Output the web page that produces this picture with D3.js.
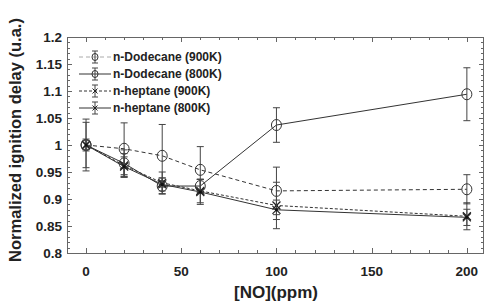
<!DOCTYPE html>
<html>
<head>
<meta charset="utf-8">
<script src="https://cdn.jsdelivr.net/npm/d3@7"></script>
<style>
  body { margin: 0; background: #fff; }
  text { font-family: "Liberation Sans", Arial, sans-serif; font-weight: bold; }
</style>
</head>
<body>
<script>
var noPpm = [0, 20, 40, 60, 100, 200];
var dod900 = [1.0, 0.993, 0.980, 0.954, 0.915, 0.918];
var dod900Err = [0.048, 0.048, 0.058, 0.043, 0.044, 0.027];
var dod800 = [1.0, 0.966, 0.924, 0.924, 1.037, 1.094];
var dod800Err = [0.042, 0.025, 0.015, 0.012, 0.032, 0.049];
var hep900 = [1.0, 0.962, 0.930, 0.915, 0.888, 0.868];
var hep900Err = [0.011, 0.022, 0.020, 0.022, 0.043, 0.025];
var hep800 = [1.0, 0.960, 0.927, 0.913, 0.880, 0.866];
var hep800Err = [0.008, 0.018, 0.012, 0.023, 0.018, 0.015];
var xTicks = [0, 50, 100, 150, 200];
var yTicks = [0.8, 0.85, 0.9, 0.95, 1, 1.05, 1.1, 1.15, 1.2];
var seriesNames = ["n-Dodecane (900K)", "n-Dodecane (800K)", "n-heptane (900K)", "n-heptane (800K)"];

var width = 486, height = 302;
var margin = { top: 37, right: 2, bottom: 49, left: 67 };
var svg = d3.select("body").append("svg").attr("width", width).attr("height", height);

var x = d3.scaleLinear().domain([-10, 209]).range([margin.left, width - margin.right]);
var y = d3.scaleLinear().domain([0.8, 1.2]).range([height - margin.bottom, margin.top]);

var series = [
  { name: seriesNames[0], vals: dod900, err: dod900Err, dash: "4,3", marker: "circle" },
  { name: seriesNames[1], vals: dod800, err: dod800Err, dash: null, marker: "circle" },
  { name: seriesNames[2], vals: hep900, err: hep900Err, dash: "3,2", marker: "x" },
  { name: seriesNames[3], vals: hep800, err: hep800Err, dash: null, marker: "star" }
];

var axisColor = "#666";
var x0 = margin.left, x1 = width - margin.right, y0 = height - margin.bottom, y1 = margin.top;

// ticks, inward on all four sides
var xMinor = d3.range(0, 201, 10);
var yMinor = d3.range(0, 41).map(function(i) { return +(0.8 + i * 0.01).toFixed(2); });
var tg = svg.append("g").attr("stroke", axisColor).attr("stroke-width", 1);
xMinor.forEach(function(v) {
  var len = v % 50 === 0 ? 5 : 3;
  var px = Math.round(x(v)) + 0.5;
  tg.append("line").attr("x1", px).attr("x2", px).attr("y1", y0).attr("y2", y0 - len);
  tg.append("line").attr("x1", px).attr("x2", px).attr("y1", y1).attr("y2", y1 + len);
});
yMinor.forEach(function(v, i) {
  var len = i % 5 === 0 ? 5 : 3;
  var py = Math.round(y(v)) + 0.5;
  tg.append("line").attr("x1", x0).attr("x2", x0 + len).attr("y1", py).attr("y2", py);
  tg.append("line").attr("x1", x1).attr("x2", x1 - len).attr("y1", py).attr("y2", py);
});

svg.append("rect").attr("x", x0 + 0.5).attr("y", y1 + 0.5)
  .attr("width", x1 - x0 - 1).attr("height", y0 - y1)
  .attr("fill", "none").attr("stroke", axisColor).attr("stroke-width", 1);

// tick labels
svg.append("g").selectAll("text").data(yTicks).enter().append("text")
  .attr("x", 62).attr("y", function(d) { return y(d); }).attr("dy", "0.36em")
  .attr("text-anchor", "end").attr("font-size", "13.5px").attr("fill", "#222")
  .text(function(d) { return d; });
svg.append("g").selectAll("text").data(xTicks).enter().append("text")
  .attr("x", function(d) { return x(d); }).attr("y", 276)
  .attr("text-anchor", "middle").attr("font-size", "13.5px").attr("fill", "#222")
  .text(function(d) { return d; });

// axis titles
svg.append("text").attr("x", 276).attr("y", 298).attr("text-anchor", "middle")
  .attr("font-size", "17px").attr("fill", "#222").text("[NO](ppm)");
svg.append("text").attr("transform", "translate(21," + ((y0 + y1) / 2 - 5) + ") rotate(-90)")
  .attr("text-anchor", "middle").attr("font-size", "16.5px").attr("fill", "#222")
  .text("Normalized ignition delay (u.a.)");

function drawMarker(g, type, cx, cy) {
  if (type === "circle") {
    g.append("ellipse").attr("cx", cx).attr("cy", cy).attr("rx", 5).attr("ry", 5.5)
      .attr("fill", "none").attr("stroke", "#333").attr("stroke-width", 1);
  } else {
    var s = 4;
    g.append("path").attr("d", "M" + (cx - s) + "," + (cy - s) + "L" + (cx + s) + "," + (cy + s) +
      "M" + (cx - s) + "," + (cy + s) + "L" + (cx + s) + "," + (cy - s))
      .attr("stroke", "#222").attr("stroke-width", 1.2).attr("fill", "none");
    if (type === "star") {
      g.append("circle").attr("cx", cx).attr("cy", cy).attr("r", 1.5).attr("fill", "#111");
    }
  }
}

var line = d3.line().x(function(d) { return x(d[0]); }).y(function(d) { return y(d[1]); });

series.forEach(function(s) {
  var g = svg.append("g");
  var pts = noPpm.map(function(v, i) { return [v, s.vals[i]]; });
  g.append("path").attr("d", line(pts)).attr("fill", "none")
    .attr("stroke", "#333").attr("stroke-width", 1)
    .attr("stroke-dasharray", s.dash);
  noPpm.forEach(function(v, i) {
    var cx = x(v), hi = y(s.vals[i] + s.err[i]), lo = y(s.vals[i] - s.err[i]);
    g.append("path").attr("d", "M" + cx + "," + hi + "V" + lo +
      "M" + (cx - 3.5) + "," + hi + "H" + (cx + 3.5) +
      "M" + (cx - 3.5) + "," + lo + "H" + (cx + 3.5))
      .attr("stroke", "#444").attr("stroke-width", 1).attr("fill", "none");
    drawMarker(g, s.marker, cx, y(s.vals[i]));
  });
});

// legend
var legY = [57, 74, 91, 108];
series.forEach(function(s, i) {
  var g = svg.append("g");
  var ly = legY[i];
  g.append("line").attr("x1", 79).attr("x2", 111).attr("y1", ly).attr("y2", ly)
    .attr("stroke", i === 0 ? "#aaa" : "#333").attr("stroke-width", 1)
    .attr("stroke-dasharray", s.dash);
  g.append("path").attr("d", "M95," + (ly - 6) + "V" + (ly + 6) + "M92," + (ly - 6) + "H98M92," + (ly + 6) + "H98")
    .attr("stroke", "#444").attr("stroke-width", 1);
  if (s.marker === "circle") {
    g.append("ellipse").attr("cx", 95).attr("cy", ly).attr("rx", 3).attr("ry", 3.5)
      .attr("fill", "none").attr("stroke", "#333");
  } else {
    g.append("path").attr("d", "M92.5," + (ly - 2.5) + "L97.5," + (ly + 2.5) + "M92.5," + (ly + 2.5) + "L97.5," + (ly - 2.5))
      .attr("stroke", "#222");
  }
  g.append("text").attr("x", 113).attr("y", ly).attr("dy", "0.36em")
    .attr("font-size", "12px").attr("fill", "#222").text(s.name);
});
</script>
</body>
</html>
